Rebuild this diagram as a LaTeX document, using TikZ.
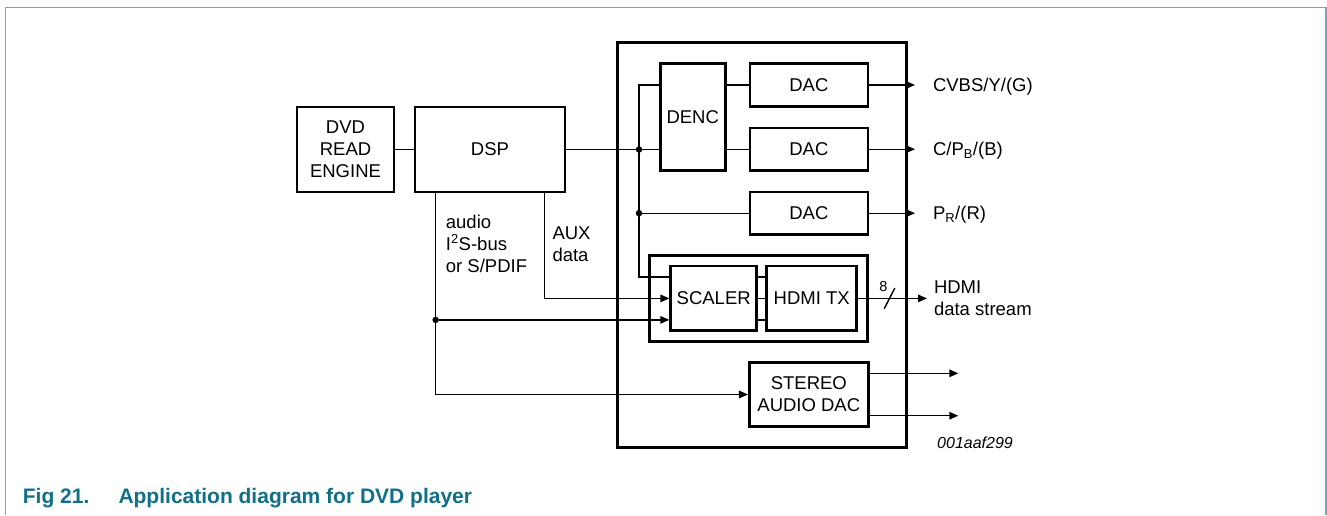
\documentclass[tikz,border=0pt]{standalone}
\usepackage{fontspec}
\setmainfont{Liberation Sans}
\usetikzlibrary{arrows.meta}
\definecolor{nxpframe}{RGB}{105,172,190}
\definecolor{nxpteal}{RGB}{16,112,137}
\tikzset{
  blk/.style={draw, line width=2.7pt, inner sep=0pt, align=center},
  wire/.style={line width=1.4pt},
  sig/.style={wire, -{Triangle[length=9pt,width=7.5pt]}},
  outlbl/.style={anchor=west, inner sep=0pt, outer xsep=18pt, text height=17pt, text depth=3.7pt},
  jdot/.style={circle, fill, inner sep=0pt, minimum size=6.5pt},
}
\begin{document}
\begin{tikzpicture}[x=1pt, y=-1pt, font=\fontsize{18.5}{22}\selectfont]
\useasboundingbox (0,0) rectangle (1327,515);
% page frame
\draw[nxpframe, line width=1.6pt] (5.5,515) -- (5.5,7.3) -- (1326,7.3) -- (1326,515);

% blocks
\node[blk, minimum width=97pt, minimum height=85pt] (engine) at (345.5,149.5) {DVD\\READ\\ENGINE};
\node[blk, minimum width=150pt, minimum height=85pt] (dsp) at (490,149.5) {DSP};
\node[blk, line width=3pt, minimum width=288.5pt, minimum height=405pt] (chip) at (761.75,245.1) {};
\node[blk, minimum width=65pt, minimum height=107pt] (denc) at (692.7,117.2) {DENC};
\foreach \n/\y in {1/85,2/149.2,3/213.2}
  \node[blk, minimum width=118pt, minimum height=42.5pt] (dac\n) at (808.9,\y) {DAC};
\node[blk, minimum width=218pt, minimum height=86pt] (grp) at (758.5,298.7) {};
\node[blk, minimum width=86pt, minimum height=64.7pt] (scaler) at (713.7,298.4) {SCALER};
\node[blk, minimum width=90pt, minimum height=64.7pt] (hdmitx) at (811.7,298.4) {HDMI TX};
\node[blk, minimum width=119pt, minimum height=64.4pt] (stereo) at (808.8,394.5) {STEREO\\AUDIO DAC};

% video path
\draw[wire] (engine) -- (dsp);
\draw[wire] (dsp) -- (denc.west |- dsp);
\coordinate (bus) at (639,85);
\draw[wire] (denc.west |- dac1) -- (bus) |- ([yshift=21.5pt]scaler.west);
\node[jdot] (j1) at (bus |- dsp) {};
\node[jdot] (j2) at (bus |- dac3) {};
\draw[wire] (j2) -- (dac3);
\draw[wire] (denc.east |- dac1) -- (dac1);
\draw[wire] (denc.east |- dac2) -- (dac2);
\foreach \d in {-21.5,0,21.5}
  \draw[wire] ([yshift=\d pt]scaler.east) -- ([yshift=\d pt]hdmitx.west);

% outputs
\node[outlbl] (cvbs) at (915,85) {CVBS/Y/(G)};
\node[outlbl] (cpb) at (915,149.2) {C/P\textsubscript{B}/(B)};
\node[outlbl] (pr) at (915,213.2) {P\textsubscript{R}/(R)};
\foreach \n/\o in {1/cvbs,2/cpb,3/pr}
  \draw[sig] (dac\n) -- (\o);
\node[anchor=west, inner sep=0pt, outer xsep=7pt, align=left] (hdmiout) at (927,298.4) {HDMI\\data stream};
\draw[sig] (hdmitx) -- (hdmiout);
\coordinate (bus8) at (889.5,298.4);
\draw[wire] ([shift={(-5.3pt,-10.3pt)}]bus8) -- ([shift={(5.3pt,10.3pt)}]bus8);
\node[font=\fontsize{14.5}{16}\selectfont, inner sep=0pt] (w8) at (883.3,286.7) {8};

% audio and aux
\coordinate (aux) at ([xshift=-22pt]dsp.south east);
\coordinate (aud) at ([xshift=22pt]dsp.south west);
\coordinate (slo) at ([yshift=-21.5pt]scaler.west);
\draw[sig] (aux) |- (scaler.west);
\draw[sig] (aud) |- (stereo.west);
\node[jdot] (j3) at (aud |- slo) {};
\draw[sig] (j3) -- (slo);
\coordinate (so1) at (958.3,373.3);
\coordinate (so2) at (958.3,415.7);
\draw[sig] (stereo.east |- so1) -- (so1);
\draw[sig] (stereo.east |- so2) -- (so2);

% labels
\node[anchor=north west, inner sep=0pt, align=left] (audlbl) at (445.7,214.5) {audio\\I\textsuperscript{2}S-bus\\or S/PDIF};
\node[anchor=north west, inner sep=0pt, align=left] (auxlbl) at (552.3,226.7) {AUX\\data};
\node[anchor=base west, inner sep=0pt, font=\itshape\fontsize{16}{18}\selectfont] (fignum) at (937,448.3) {001aaf299};
\node[anchor=base west, inner sep=0pt, text=nxpteal, font=\bfseries\fontsize{21}{24}\selectfont] (capnum) at (22.7,503.3) {Fig 21.};
\node[anchor=base west, inner sep=0pt, text=nxpteal, font=\bfseries\fontsize{21}{24}\selectfont] (captxt) at (118.3,503.3) {Application diagram for DVD player};
\end{tikzpicture}
\end{document}
